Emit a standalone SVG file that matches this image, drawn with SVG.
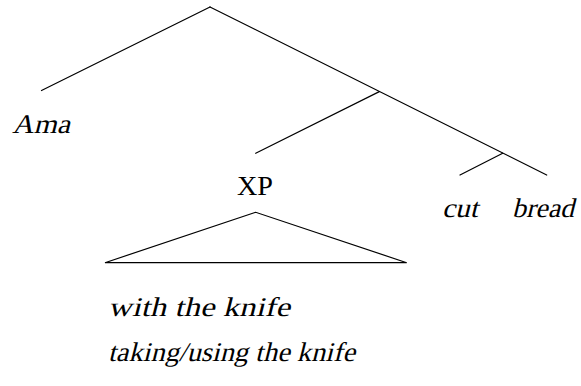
<svg xmlns="http://www.w3.org/2000/svg" width="581" height="386" viewBox="0 0 581 386">
<style>
.e{stroke:#000;stroke-width:1.2;fill:none;stroke-linecap:round}
.t{font-family:'Liberation Serif','Times New Roman',serif;font-size:27px;fill:#000}
</style>
<rect width="581" height="386" fill="#fff"/>
<g id="connectors">
<line class="e" x1="210" y1="7" x2="41.5" y2="90.5"/>
<line class="e" x1="210" y1="7" x2="546.7" y2="175"/>
<line class="e" x1="379.3" y1="91.6" x2="255.7" y2="153.3"/>
<line class="e" x1="502.7" y1="153.2" x2="460" y2="175"/>
</g>
<g id="ama"><text class="t" transform="translate(12,133) skewX(-14)" textLength="58" lengthAdjust="spacingAndGlyphs">Ama</text></g>
<g id="xp"><text class="t" x="237" y="195" textLength="36" lengthAdjust="spacingAndGlyphs">XP</text></g>
<g id="triangle"><polygon class="e" points="255.7,212.3 105,262.7 406.7,262.7"/></g>
<g id="cut"><text class="t" transform="translate(442,217) skewX(-14)" textLength="36" lengthAdjust="spacingAndGlyphs">cut</text></g>
<g id="bread"><text class="t" transform="translate(512,217) skewX(-14)" textLength="62" lengthAdjust="spacingAndGlyphs">bread</text></g>
<g id="gloss1"><text class="t" transform="translate(108,316) skewX(-14)" textLength="182" lengthAdjust="spacingAndGlyphs">with the knife</text></g>
<g id="gloss2"><text class="t" transform="translate(108,361) skewX(-14)" textLength="247" lengthAdjust="spacingAndGlyphs">taking/using the knife</text></g>
</svg>
